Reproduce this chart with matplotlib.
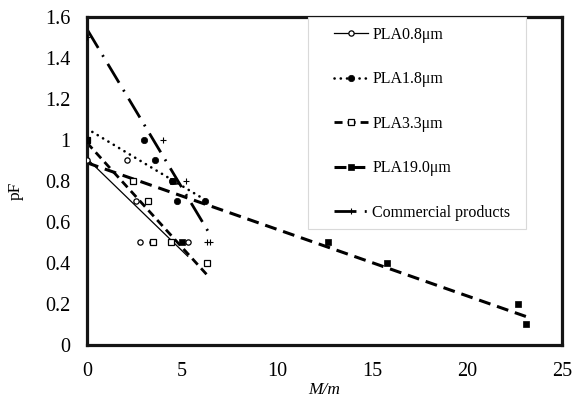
import matplotlib
matplotlib.use("Agg")
import matplotlib.pyplot as plt
import numpy as np
from matplotlib.patches import Rectangle

plt.rcParams["font.family"] = ["Liberation Serif", "DejaVu Serif"]
plt.rcParams["lines.scale_dashes"] = False

# measured pF against M/m for each powder
pla08_x = [0.0, 2.1, 2.6, 2.8, 3.4, 5.3]
pla08_y = [0.9, 0.9, 0.7, 0.5, 0.5, 0.5]

pla18_x = [0.0, 3.0, 3.6, 4.5, 4.75, 6.2]
pla18_y = [1.0, 1.0, 0.9, 0.8, 0.7, 0.7]

pla33_x = [0.0, 2.4, 3.2, 3.5, 4.4, 6.3]
pla33_y = [1.0, 0.8, 0.7, 0.5, 0.5, 0.4]

pla190_x = [0.0, 4.55, 5.0, 12.7, 15.8, 22.7, 23.1]
pla190_y = [1.0, 0.8, 0.5, 0.5, 0.4, 0.2, 0.1]

comm_x = [0.0, 4.0, 5.2, 6.3, 6.5]
comm_y = [1.5, 1.0, 0.8, 0.5, 0.5]

labels = ["PLA0.8μm", "PLA1.8μm", "PLA3.3μm", "PLA19.0μm", "Commercial products"]

x_ticks = [0, 5, 10, 15, 20, 25]
y_ticks = [0, 0.2, 0.4, 0.6, 0.8, 1.0, 1.2, 1.4, 1.6]
y_tick_labels = ["0", "0.2", "0.4", "0.6", "0.8", "1", "1.2", "1.4", "1.6"]

series = [
    (pla08_x, pla08_y, dict(marker="o", mfc="white", ms=3.8, mew=0.9),
     dict(lw=0.9, ls="-")),
    (pla18_x, pla18_y, dict(marker="o", mfc="black", ms=4.6, mew=0.5),
     dict(lw=1.9, dashes=(0.1, 4.4), dash_capstyle="round")),
    (pla33_x, pla33_y, dict(marker="s", mfc="white", ms=4.0, mew=0.9),
     dict(lw=2.0, dashes=(5.8, 3.6))),
    (pla190_x, pla190_y, dict(marker="s", mfc="black", ms=4.4, mew=0.5),
     dict(lw=2.2, dashes=(8.6, 5.0))),
    (comm_x, comm_y, dict(marker="+", ms=5.0, mew=0.8),
     dict(lw=2.0, dashes=(15.8, 6.0, 1.4, 6.0))),
]

fig = plt.figure(figsize=(5.72, 4.01), dpi=100)
ax = fig.add_axes([0.152, 0.1397, 0.8305, 0.818])

handles = []
for xs, ys, mstyle, lstyle in series:
    xs = np.asarray(xs)
    ys = np.asarray(ys)
    ax.plot(xs, ys, ls="none", color="black", mec="black", zorder=3, **mstyle)
    # linear trend over the measured range
    slope, intercept = np.polyfit(xs, ys, 1)
    xt = np.array([xs.min(), xs.max()])
    ax.plot(xt, slope * xt + intercept, color="black", zorder=2, **lstyle)
    h, = ax.plot([], [], color="black", mec="black", **mstyle, **lstyle)
    handles.append(h)

ax.set_xlim(0, 25)
ax.set_ylim(0, 1.6)
ax.set_xticks(x_ticks)
ax.set_yticks(y_ticks)
ax.set_yticklabels(y_tick_labels)
ax.tick_params(length=0, labelsize=14.5, pad=12)
for sp in ax.spines.values():
    sp.set_linewidth(2.3)
    sp.set_color("#151515")

ax.set_xlabel("M/m", fontstyle="italic", fontsize=12.5)
ax.xaxis.set_label_coords(0.5, -0.112)
ax.set_ylabel("pF", fontsize=12.5)
ax.yaxis.set_label_coords(-0.132, 0.47)

# legend box drawn separately so the handles can sit well inside it
ax.add_patch(Rectangle((0.4653, 0.3537), 0.4589, 0.6463, transform=ax.transAxes,
                       facecolor="white", edgecolor="#d9d9d9", lw=0.8, zorder=4))
ax.legend(handles, labels, loc="upper left", bbox_to_anchor=(0.52, 0.97),
          frameon=False, fontsize=11.5, handlelength=2.1, handletextpad=0.3,
          labelspacing=1.78, borderpad=0, borderaxespad=0).set_zorder(5)

fig.savefig("out.png", dpi=100)
